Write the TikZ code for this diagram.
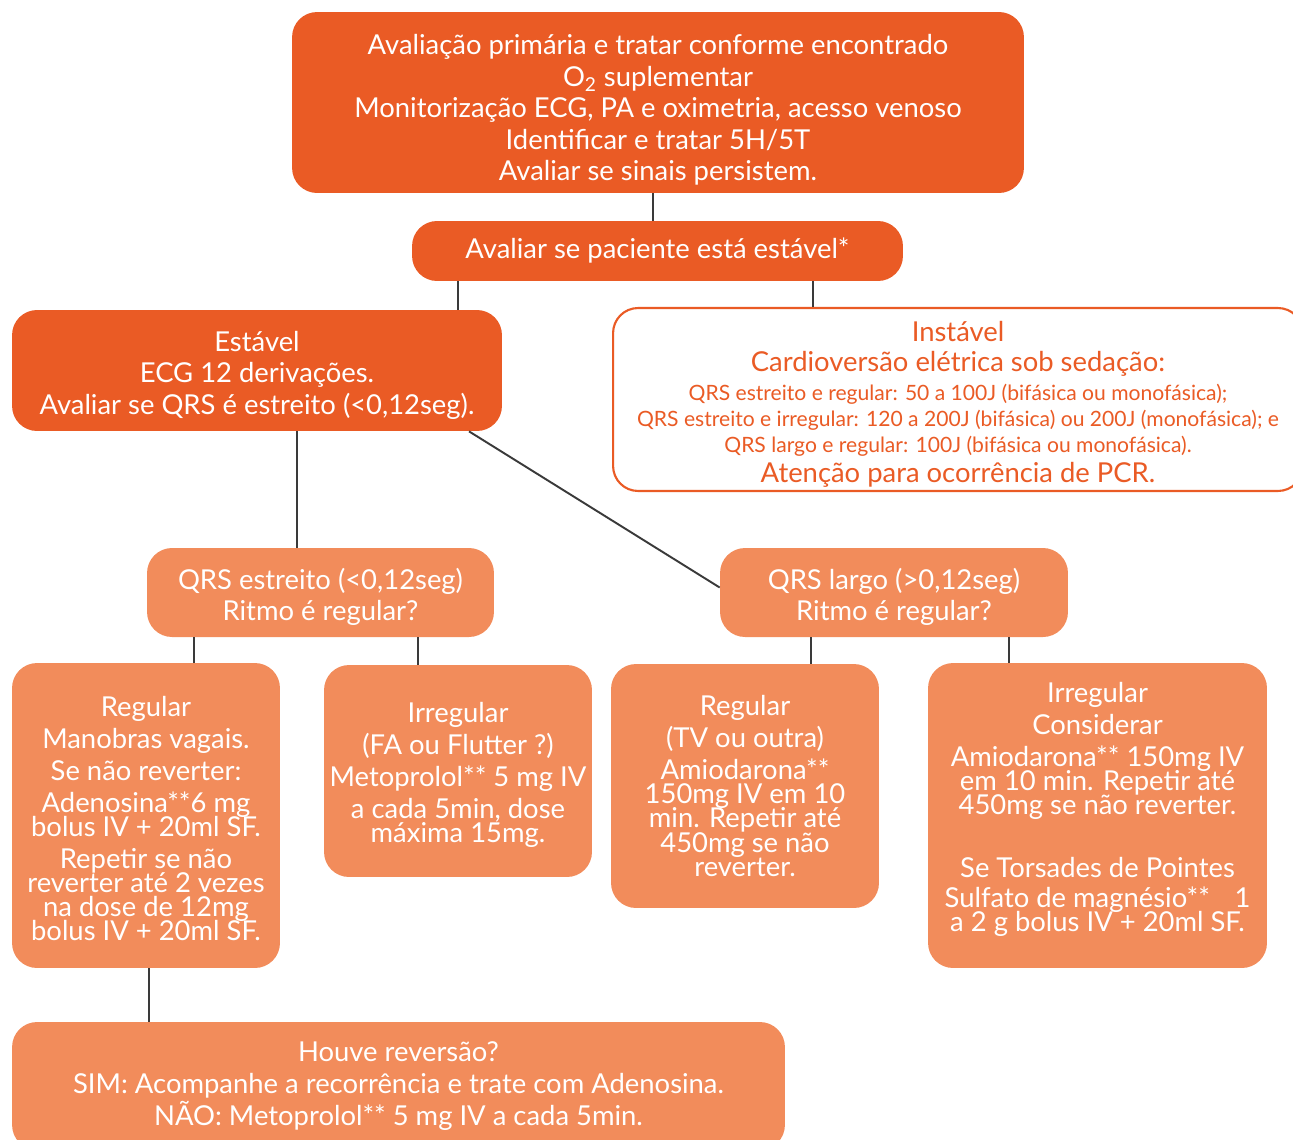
\documentclass[tikz,border=0pt]{standalone}
\usepackage{fontspec}
\setmainfont{Lato}
\usetikzlibrary{positioning}

\definecolor{darkorange}{HTML}{EA5B25}
\definecolor{lightorange}{HTML}{F28C5B}
\definecolor{linegray}{HTML}{3A3A3A}
\lineskiplimit=-20pt

\begin{document}
\begin{tikzpicture}[x=0.02cm, y=-0.02cm]
        \tikzset{basebox/.style={rounded corners=0.5cm, align=center,
                inner sep=0pt, text=white},
        darkbox/.style={basebox, fill=darkorange},
        lightbox/.style={basebox, fill=lightorange},
        outlinebox/.style={basebox, draw=darkorange, line width=1.2pt,
                fill=white, text=darkorange},
        looselines/.style={font=\fontsize{15.6}{18}\selectfont},
        tightlines/.style={font=\fontsize{15.6}{13.7}\selectfont},
        link/.style={draw=linegray, line width=1.1pt}}
        \useasboundingbox (0,0) rectangle (1293,1139);
        % top of the chart
        \node[darkbox, looselines, minimum width=14.64cm, minimum height=3.62cm]
        (primaria) at (658,102.5) {\rule{0pt}{20pt}Avaliação primária e tratar conforme encontrado\\
        O\textsubscript{2} suplementar\\
        Monitorização ECG, PA e oximetria, acesso venoso\\
        Identificar e tratar 5H/5T\\
        Avaliar se sinais persistem.};
        \node[darkbox, looselines, minimum width=9.82cm, minimum height=1.2cm]
        (avaliar) at (657.5,251) {Avaliar se paciente está estável*};
        % stable / unstable
        \node[darkbox, looselines, minimum width=9.8cm, minimum height=2.42cm]
        (estavel) at (257,370.5) {\rule{0pt}{17pt}Estável\\
        ECG 12 derivações.\\
        Avaliar se QRS é estreito (<0,12seg).};
        \node[outlinebox, minimum width=13.8cm, minimum height=3.66cm,
        font=\fontsize{12}{14.8}\selectfont]
        (instavel) at (958,399.5) {{\fontsize{15.6}{14.8}\selectfont\rule{0pt}{17pt}Instável}\\[2.8pt]
        {\fontsize{15.6}{14.8}\selectfont Cardioversão elétrica sob sedação:}\\[1.7pt]
        QRS estreito e regular: 50 a 100J (bifásica ou monofásica);\\
        QRS estreito e irregular: 120 a 200J (bifásica) ou 200J (monofásica); e\\
        QRS largo e regular: 100J (bifásica ou monofásica).\\[2.3pt]
        {\fontsize{15.6}{14.8}\selectfont Atenção para ocorrência de PCR.}};
        % narrow or wide QRS
        \node[lightbox, looselines, minimum width=6.94cm, minimum height=1.78cm]
        (estreito) at (320.5,592.5) {\rule{0pt}{17pt}QRS estreito (<0,12seg)\\Ritmo é regular?};
        \node[lightbox, looselines, minimum width=6.96cm, minimum height=1.78cm]
        (largo) at (894,592.5) {\rule{0pt}{17pt}QRS largo (>0,12seg)\\Ritmo é regular?};
        % treatments
        \node[lightbox, tightlines, minimum width=5.36cm, minimum height=6.1cm]
        (regestreito) at (146,815.5) {\rule{0pt}{15pt}Regular\\[4.5pt]
        Manobras vagais.\\[4.5pt]
        Se não reverter:\\[4.5pt]
        Adenosina**6 mg\\
        bolus IV + 20ml SF.\\[4.5pt]
        Repetir se não\\
        reverter até 2 vezes\\
        na dose de 12mg\\
        bolus IV + 20ml SF.};
        \node[lightbox, tightlines, minimum width=5.36cm, minimum height=4.24cm]
        (irrestreito) at (458,771) {\rule{0pt}{16pt}Irregular\\[4.5pt]
        (FA ou Flutter ?)\\[4.5pt]
        Metoprolol** 5 mg IV\\[4.5pt]
        a cada 5min, dose\\
        máxima 15mg.};
        \node[lightbox, tightlines, minimum width=5.36cm, minimum height=4.88cm]
        (reglargo) at (745,786) {Regular\\[4.5pt]
        (TV ou outra)\\[4.5pt]
        Amiodarona**\\
        150mg IV em 10\\
        min. Repetir até\\
        450mg se não\\
        reverter.};
        \node[lightbox, tightlines, minimum width=6.78cm, minimum height=6.1cm]
        (irrlargo) at (1097.5,815.5) {Irregular\\[4.5pt]
        Considerar\\[4.5pt]
        Amiodarona** 150mg IV\\
        em 10 min. Repetir até\\
        450mg se não reverter.\\[22pt]
        Se Torsades de Pointes\\[3.4pt]
        Sulfato de magnésio**\hspace{0.9em}1\\
        a 2 g bolus IV + 20ml SF.\rule[-10pt]{0pt}{0pt}};
        \node[lightbox, looselines, minimum width=15.46cm, minimum height=2.56cm]
        (reversao) at (398.5,1086) {Houve reversão?\\
        SIM: Acompanhe a recorrência e trate com Adenosina.\\
        NÃO: Metoprolol** 5 mg IV a cada 5min.};
        % connectors
        \draw[link] (primaria.south -| 653,0) -- (avaliar.north -| 653,0);
        \draw[link] (avaliar.south -| 458,0) -- (estavel.north -| 458,0);
        \draw[link] (avaliar.south -| 813,0) -- (instavel.north -| 813,0);
        \draw[link] (estavel.south -| 297,0) -- (estreito.north -| 297,0);
        \draw[link] (estavel.south -| 469,0) -- ([yshift=0.1cm]largo.west);
        \draw[link] (estreito.south -| 194,0) -- (regestreito.north -| 194,0);
        \draw[link] (estreito.south -| 418,0) -- (irrestreito.north -| 418,0);
        \draw[link] (largo.south -| 811,0) -- (reglargo.north -| 811,0);
        \draw[link] (largo.south -| 1009,0) -- (irrlargo.north -| 1009,0);
        \draw[link] (regestreito.south -| 149,0) -- (reversao.north -| 149,0);
\end{tikzpicture}
\end{document}
